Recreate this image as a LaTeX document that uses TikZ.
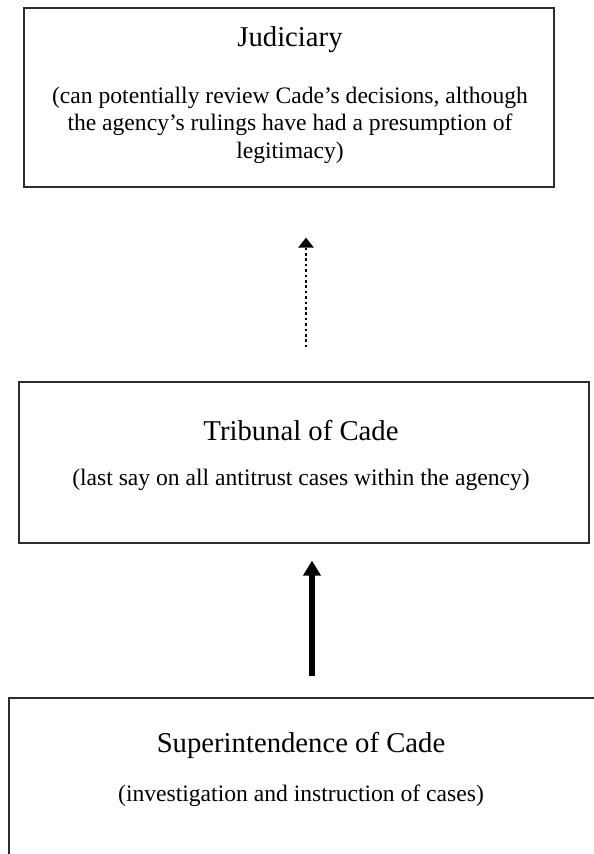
\documentclass[tikz,border=0pt]{standalone}
\usepackage{fontspec}
\setmainfont{Liberation Serif}
\usetikzlibrary{positioning,arrows.meta}
\definecolor{frameGray}{RGB}{45,45,45}

\tikzset{
  orgbox/.style={draw=frameGray,line width=1.2pt,rectangle,inner sep=0pt},
  boxtitle/.style={font=\fontsize{28.7}{33}\selectfont,anchor=base,inner sep=0pt},
  boxnote/.style={font=\fontsize{23.6}{27.5}\selectfont,anchor=base,align=center,inner sep=0pt},
  dotarrow/.style={line width=2.7pt,dash pattern=on 2.7pt off 2.7pt,-{Triangle[width=15pt,length=10pt]}},
  mainarrow/.style={line width=6pt,-{Triangle[width=17pt,length=15pt]}}
}

\begin{document}
\begin{tikzpicture}[x=1pt,y=-1pt]
  \useasboundingbox (0,0) rectangle (594,854);
  \clip (0,0) rectangle (594,854);

  % the three levels
  \node[orgbox,minimum width=530pt,minimum height=179pt] (judiciary) at (289,97.5) {};
  \node[orgbox,minimum width=570pt,minimum height=161pt] (tribunal) at (304,462.5) {};
  \node[orgbox,minimum width=611pt,minimum height=182pt] (superint) at (314.5,789) {};

  % texts (base of the note is its last line)
  \node[boxtitle] (judTitle) at (290,46) {Judiciary};
  \node[boxnote] (judNote) at (290,158) {(can potentially review Cade’s decisions, although\\the agency’s rulings have had a presumption of\\legitimacy)};
  \node[boxtitle] (tribTitle) at (301,440) {Tribunal of Cade};
  \node[boxnote] (tribNote) at (301,485.5) {(last say on all antitrust cases within the agency)};
  \node[boxtitle] (supTitle) at (301,752) {Superintendence of Cade};
  \node[boxnote] (supNote) at (301,801.5) {(investigation and instruction of cases)};

  % arrows between levels
  \coordinate[above=34pt of tribunal.north,xshift=2pt] (dotTail);
  \coordinate[below=50pt of judiciary.south,xshift=17pt] (dotTip);
  \coordinate[above=21pt of superint.north,xshift=-2.5pt] (solidTail);
  \coordinate[below=17pt of tribunal.south,xshift=8pt] (solidTip);
  \draw[dotarrow] (dotTail) -- (dotTip);
  \draw[mainarrow] (solidTail) -- (solidTip);
\end{tikzpicture}
\end{document}
